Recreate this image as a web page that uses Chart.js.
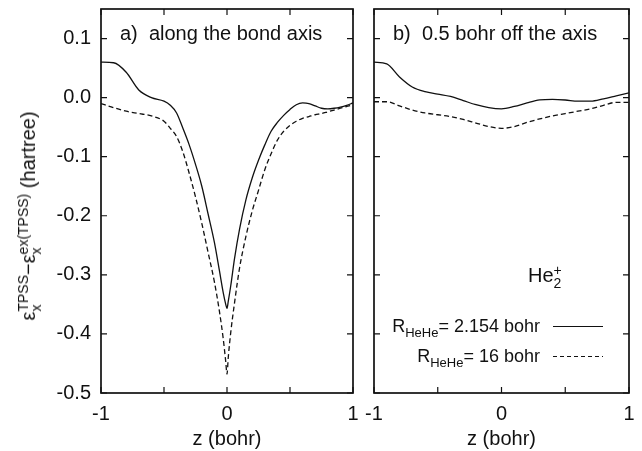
<!DOCTYPE html>
<html>
<head>
<meta charset="utf-8">
<script src="https://cdn.jsdelivr.net/npm/chart.js@4.4.0/dist/chart.umd.min.js"></script>
<style>
body { margin:0; background:#fff; }
#wrap { position:relative; width:642px; height:451px; font-family:"Liberation Sans", Arial, sans-serif; color:#111; overflow:hidden; }
#wrap canvas { position:absolute; top:0; }
#cA { left:0; }
#cB { left:360px; }
.lbl { position:absolute; font-size:20px; line-height:20px; white-space:nowrap; }
.leg { font-size:18px; }
.ss { display:inline-flex; flex-direction:column; vertical-align:middle; font-size:14px; line-height:13px; text-align:left; }
.lbl sub { font-size:13px; vertical-align:-5px; line-height:0; }
#ytitle { left:30px; top:216px; transform:translate(-50%,-50%) rotate(-90deg); }
.sample { position:absolute; left:553px; width:50px; height:1.4px; }
</style>
</head>
<body>
<div id="wrap">
  <canvas id="cA" width="360" height="451"></canvas>
  <canvas id="cB" width="282" height="451"></canvas>
  <div class="lbl" id="ytitle">ε<span class="ss"><span>TPSS</span><span>x</span></span>−ε<span class="ss"><span>ex(TPSS)</span><span>x</span></span> (hartree)</div>
  <div class="lbl" style="left:120px;top:23px">a)&nbsp; along the bond axis</div>
  <div class="lbl" style="left:393px;top:23px">b)&nbsp; 0.5 bohr off the axis</div>
  <div class="lbl" style="left:528px;top:264px">He<span class="ss"><span>+</span><span>2</span></span></div>
  <div class="lbl leg" style="right:102px;top:316px">R<sub>HeHe</sub>= 2.154 bohr</div>
  <div class="lbl leg" style="right:102px;top:346px">R<sub>HeHe</sub>= 16 bohr</div>
  <div class="sample" style="top:326px;background:#111"></div>
  <div class="sample" style="top:356px;background:repeating-linear-gradient(90deg,#111 0 4px,transparent 4px 7px)"></div>
</div>
<script>
// panel a: along the bond axis
const zA = [-1, -0.9, -0.8, -0.7, -0.6, -0.5, -0.45, -0.4, -0.35, -0.3, -0.25, -0.2, -0.15, -0.1, -0.06, -0.03, -0.01, 0,
  0.01, 0.03, 0.06, 0.1, 0.15, 0.2, 0.25, 0.3, 0.35, 0.4, 0.45, 0.5, 0.55, 0.6, 0.65, 0.7, 0.75, 0.8, 0.85, 0.9, 0.95, 1];
const solidA = [0.060, 0.059, 0.043, 0.013, 0.000, -0.006, -0.013, -0.026, -0.052, -0.080, -0.113, -0.150, -0.197, -0.245, -0.293, -0.330, -0.350, -0.357,
  -0.345, -0.318, -0.272, -0.222, -0.173, -0.136, -0.106, -0.080, -0.057, -0.042, -0.030, -0.020, -0.012, -0.009, -0.010, -0.014, -0.018, -0.019, -0.018, -0.016, -0.013, -0.009];
const dashedA = [-0.010, -0.017, -0.023, -0.027, -0.031, -0.040, -0.052, -0.066, -0.092, -0.128, -0.168, -0.213, -0.262, -0.312, -0.362, -0.408, -0.447, -0.468,
  -0.440, -0.397, -0.347, -0.288, -0.235, -0.192, -0.157, -0.122, -0.095, -0.072, -0.057, -0.047, -0.040, -0.035, -0.032, -0.029, -0.027, -0.024, -0.021, -0.018, -0.015, -0.012];

// panel b: 0.5 bohr off the axis
const zB = [-1, -0.9, -0.8, -0.7, -0.6, -0.5, -0.4, -0.3, -0.2, -0.1, 0, 0.1, 0.2, 0.3, 0.4, 0.5, 0.6, 0.7, 0.8, 0.9, 1];
const solidB = [0.060, 0.057, 0.035, 0.018, 0.010, 0.006, 0.002, -0.005, -0.012, -0.017, -0.019, -0.015, -0.009, -0.004, -0.003, -0.004, -0.006, -0.006, -0.002, 0.003, 0.008];
const dashedB = [-0.007, -0.007, -0.014, -0.021, -0.026, -0.029, -0.032, -0.037, -0.043, -0.049, -0.052, -0.049, -0.042, -0.036, -0.031, -0.027, -0.023, -0.019, -0.013, -0.008, -0.008];

const xTicks = [-1, -0.5, 0, 0.5, 1];
const xLabels = [-1, 0, 1];
const yTicks = [-0.5, -0.4, -0.3, -0.2, -0.1, 0, 0.1];

const ink = '#111';
const font = { family: '"Liberation Sans", Arial, sans-serif', size: 20 };

// box round the plot with inward ticks on all four sides
const frameTicks = {
  id: 'frameTicks',
  afterDraw(chart) {
    const { ctx, chartArea: a, scales: { x, y } } = chart;
    ctx.save();
    ctx.strokeStyle = ink;
    ctx.lineWidth = 1.2;
    ctx.beginPath();
    x.ticks.forEach(t => {
      const px = x.getPixelForValue(t.value);
      ctx.moveTo(px, a.bottom); ctx.lineTo(px, a.bottom - 6);
      ctx.moveTo(px, a.top); ctx.lineTo(px, a.top + 6);
    });
    y.ticks.forEach(t => {
      const py = y.getPixelForValue(t.value);
      ctx.moveTo(a.left, py); ctx.lineTo(a.left + 6, py);
      ctx.moveTo(a.right, py); ctx.lineTo(a.right - 6, py);
    });
    ctx.stroke();
    ctx.lineWidth = 1.7;
    ctx.strokeRect(a.left, a.top, a.right - a.left, a.bottom - a.top);
    ctx.restore();
  }
};

function pts(z, v) {
  return z.map((zz, i) => ({ x: zz, y: v[i] }));
}

function makeChart(id, z, solid, dashed, yWidth, padRight, showY) {
  return new Chart(document.getElementById(id), {
    type: 'line',
    data: {
      datasets: [{
        data: pts(z, solid),
        borderColor: ink,
        borderWidth: 1.3,
        pointRadius: 0,
        cubicInterpolationMode: 'monotone',
      }, {
        data: pts(z, dashed),
        borderColor: ink,
        borderWidth: 1.3,
        borderDash: [5, 3],
        pointRadius: 0,
        cubicInterpolationMode: 'monotone',
      }]
    },
    options: {
      responsive: false,
      animation: false,
      layout: { padding: { left: 0, right: padRight, top: 9, bottom: 0 } },
      plugins: { legend: { display: false }, tooltip: { enabled: false } },
      scales: {
        x: {
          type: 'linear',
          min: -1, max: 1,
          grid: { display: false },
          border: { display: false },
          afterBuildTicks: s => { s.ticks = xTicks.map(v => ({ value: v })); },
          afterFit: s => { s.height = 58; s.paddingLeft = 0; s.paddingRight = 0; },
          ticks: {
            autoSkip: false, maxRotation: 0, padding: 1, color: ink, font: font,
            callback: v => xLabels.includes(v) ? String(v) : ''
          },
          title: { display: true, text: 'z (bohr)', color: ink, font: font, padding: { top: 0, bottom: 0 } }
        },
        y: {
          min: -0.5, max: 0.15,
          grid: { display: false },
          border: { display: false },
          afterBuildTicks: s => { s.ticks = yTicks.map(v => ({ value: v })); },
          afterFit: s => { s.width = yWidth; s.paddingTop = 0; s.paddingBottom = 0; },
          ticks: {
            display: showY, padding: 2, color: ink, font: font,
            callback: v => v.toFixed(1)
          }
        }
      }
    },
    plugins: [frameTicks]
  });
}

makeChart('cA', zA, solidA, dashedA, 101, 7, true);
makeChart('cB', zB, solidB, dashedB, 14, 13, false);
</script>
</body>
</html>
